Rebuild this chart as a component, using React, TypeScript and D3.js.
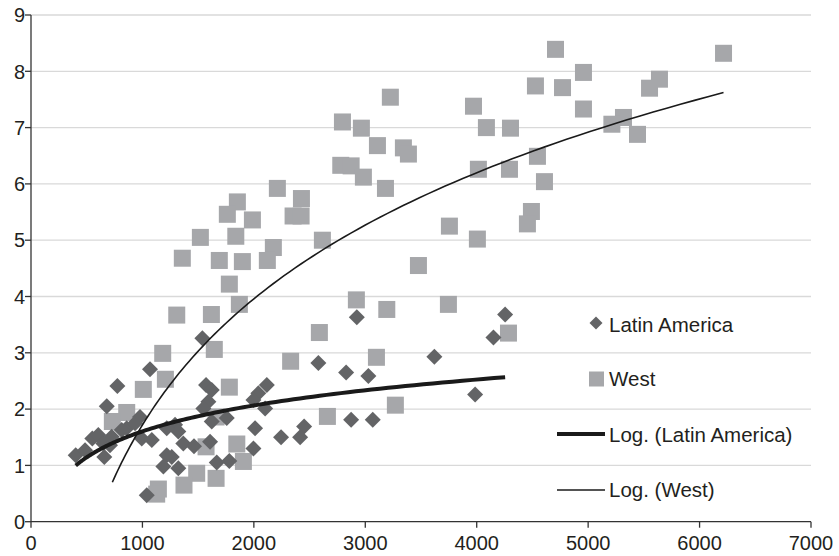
import React from 'react';
import * as d3 from 'd3';

// Latin America (diamonds)
const latamX = [1538, 1068, 775, 680, 1571, 1622, 1592, 1547, 1622, 1757, 2116, 2040, 1996, 2101, 1293, 1322, 1367, 1463, 1607, 2011, 1996, 2244, 1263, 1322, 1667, 1780, 2924, 2579, 2828, 3028, 3620, 4255, 4150, 3986, 2873, 3067, 2451, 2415, 401, 485, 550, 604, 649, 658, 709, 724, 859, 934, 978, 994, 1084, 1218, 1218, 1188, 1039, 814];
const latamY = [3.26, 2.71, 2.41, 2.05, 2.43, 2.34, 2.13, 2.01, 1.78, 1.84, 2.43, 2.28, 2.16, 2.01, 1.72, 1.6, 1.39, 1.34, 1.42, 1.66, 1.3, 1.5, 1.15, 0.95, 1.05, 1.08, 3.63, 2.82, 2.65, 2.59, 2.93, 3.68, 3.27, 2.26, 1.81, 1.81, 1.69, 1.5, 1.18, 1.27, 1.48, 1.54, 1.39, 1.15, 1.36, 1.51, 1.66, 1.75, 1.86, 1.48, 1.45, 1.66, 1.18, 0.98, 0.47, 1.63];

// West (squares)
const westX = [6215, 4707, 4958, 5640, 5551, 4527, 4770, 3225, 3971, 4958, 5317, 2795, 5213, 2965, 4087, 4303, 5443, 3109, 3342, 3387, 4545, 2780, 2873, 4015, 4294, 2983, 4608, 3181, 2211, 2427, 1852, 1762, 2352, 2424, 1987, 4491, 4455, 3755, 1520, 1838, 2615, 4006, 2175, 1358, 1690, 1897, 2121, 3477, 1780, 2920, 3746, 1870, 3193, 1308, 1619, 2588, 4285, 1182, 1645, 2330, 3100, 1206, 1780, 1008, 859, 730, 1661, 2660, 3270, 1571, 1847, 1906, 1487, 1661, 1373, 1143, 1128];
const westY = [8.32, 8.39, 7.98, 7.86, 7.7, 7.74, 7.71, 7.54, 7.38, 7.33, 7.18, 7.1, 7.06, 6.99, 7.0, 6.99, 6.88, 6.68, 6.64, 6.53, 6.49, 6.33, 6.32, 6.26, 6.26, 6.12, 6.04, 5.92, 5.92, 5.74, 5.68, 5.46, 5.43, 5.43, 5.36, 5.51, 5.29, 5.25, 5.05, 5.07, 5.0, 5.02, 4.87, 4.68, 4.64, 4.62, 4.64, 4.55, 4.22, 3.94, 3.86, 3.86, 3.77, 3.67, 3.68, 3.36, 3.35, 2.99, 3.06, 2.85, 2.92, 2.53, 2.39, 2.35, 1.94, 1.78, 1.86, 1.87, 2.07, 1.33, 1.38, 1.07, 0.86, 0.77, 0.65, 0.58, 0.49];

const xTicks = [0, 1000, 2000, 3000, 4000, 5000, 6000, 7000];
const yTicks = [0, 1, 2, 3, 4, 5, 6, 7, 8, 9];
const legendLabels = ['Latin America', 'West', 'Log. (Latin America)', 'Log. (West)'];

const FONT = '"Liberation Sans", Arial, Helvetica, sans-serif';
const INK = '#231f20';

// least squares fit y = a*ln(x) + b, as Excel's logarithmic trendline
function logFit(xs: number[], ys: number[]) {
  const lx = xs.map(Math.log);
  const mx = d3.mean(lx)!;
  const my = d3.mean(ys)!;
  let sxy = 0, sxx = 0;
  lx.forEach((v, i) => {
    sxy += (v - mx) * (ys[i] - my);
    sxx += (v - mx) * (v - mx);
  });
  const a = sxy / sxx;
  const b = my - a * mx;
  const [x0, x1] = d3.extent(xs) as [number, number];
  return d3.range(0, 101).map(i => {
    const x = x0 * Math.pow(x1 / x0, i / 100);
    return [x, a * Math.log(x) + b] as [number, number];
  });
}

export default function App() {
  const width = 839, height = 556;
  const x = d3.scaleLinear().domain([0, 7000]).range([31, 811]);
  const y = d3.scaleLinear().domain([0, 9]).range([521.7, 15]);

  const line = d3.line<[number, number]>().x(d => x(d[0])).y(d => y(d[1]));
  const latamTrend = logFit(latamX, latamY);
  const westTrend = logFit(westX, westY);

  const diamond = (cx: number, cy: number, r: number) =>
    `M${cx},${cy - r}L${cx + r},${cy}L${cx},${cy + r}L${cx - r},${cy}Z`;

  const legendX = 609;
  const legendY = [332, 386, 442, 497];

  return (
    <svg width={width} height={height} style={{ position: 'absolute', left: 0, top: 0, background: '#fff' }}>
      {/* grid */}
      {yTicks.filter(t => t > 0).map(t => (
        <line key={t} x1={x(0)} x2={x(7000)} y1={y(t)} y2={y(t)} stroke="#d9d9d9" strokeWidth={1.3} />
      ))}

      {/* West squares */}
      {westX.map((v, i) => (
        <rect key={'w' + i} x={x(v) - 8.5} y={y(westY[i]) - 8.5} width={17} height={17} fill="#a6a7aa" />
      ))}

      {/* Latin America diamonds */}
      {latamX.map((v, i) => (
        <path key={'l' + i} d={diamond(x(v), y(latamY[i]), 8)} fill="#636466" />
      ))}

      {/* trend lines */}
      <path d={line(latamTrend)!} fill="none" stroke="#1a1a1a" strokeWidth={4} />
      <path d={line(westTrend)!} fill="none" stroke="#1a1a1a" strokeWidth={1.6} />

      {/* axes */}
      <line x1={x(0)} x2={x(0)} y1={y(9)} y2={y(0)} stroke="#333" strokeWidth={1.3} />
      <line x1={x(0)} x2={x(7000)} y1={y(0)} y2={y(0)} stroke="#333" strokeWidth={1.3} />
      {yTicks.map(t => (
        <g key={'yt' + t}>
          <line x1={x(0) - 6} x2={x(0)} y1={y(t)} y2={y(t)} stroke="#333" strokeWidth={1.3} />
          <text x={25} y={y(t)} dy="0.36em" textAnchor="end" fontFamily={FONT} fontSize={20} fill={INK}>{t}</text>
        </g>
      ))}
      {xTicks.map(t => (
        <g key={'xt' + t}>
          <line x1={x(t)} x2={x(t)} y1={y(0)} y2={y(0) + 6} stroke="#333" strokeWidth={1.3} />
          <text x={x(t)} y={550} textAnchor="middle" fontFamily={FONT} fontSize={20} fill={INK}>{t}</text>
        </g>
      ))}

      {/* legend */}
      <path d={diamond(596, 323, 6.5)} fill="#636466" />
      <rect x={589} y={371.5} width={15} height={15} fill="#a6a7aa" />
      <line x1={557} x2={605} y1={434} y2={434} stroke="#1a1a1a" strokeWidth={4} />
      <line x1={557} x2={605} y1={490} y2={490} stroke="#1a1a1a" strokeWidth={1.6} />
      {legendLabels.map((l, i) => (
        <text key={l} x={legendX} y={legendY[i]} fontFamily={FONT} fontSize={20.5} fill={INK}>{l}</text>
      ))}
    </svg>
  );
}
